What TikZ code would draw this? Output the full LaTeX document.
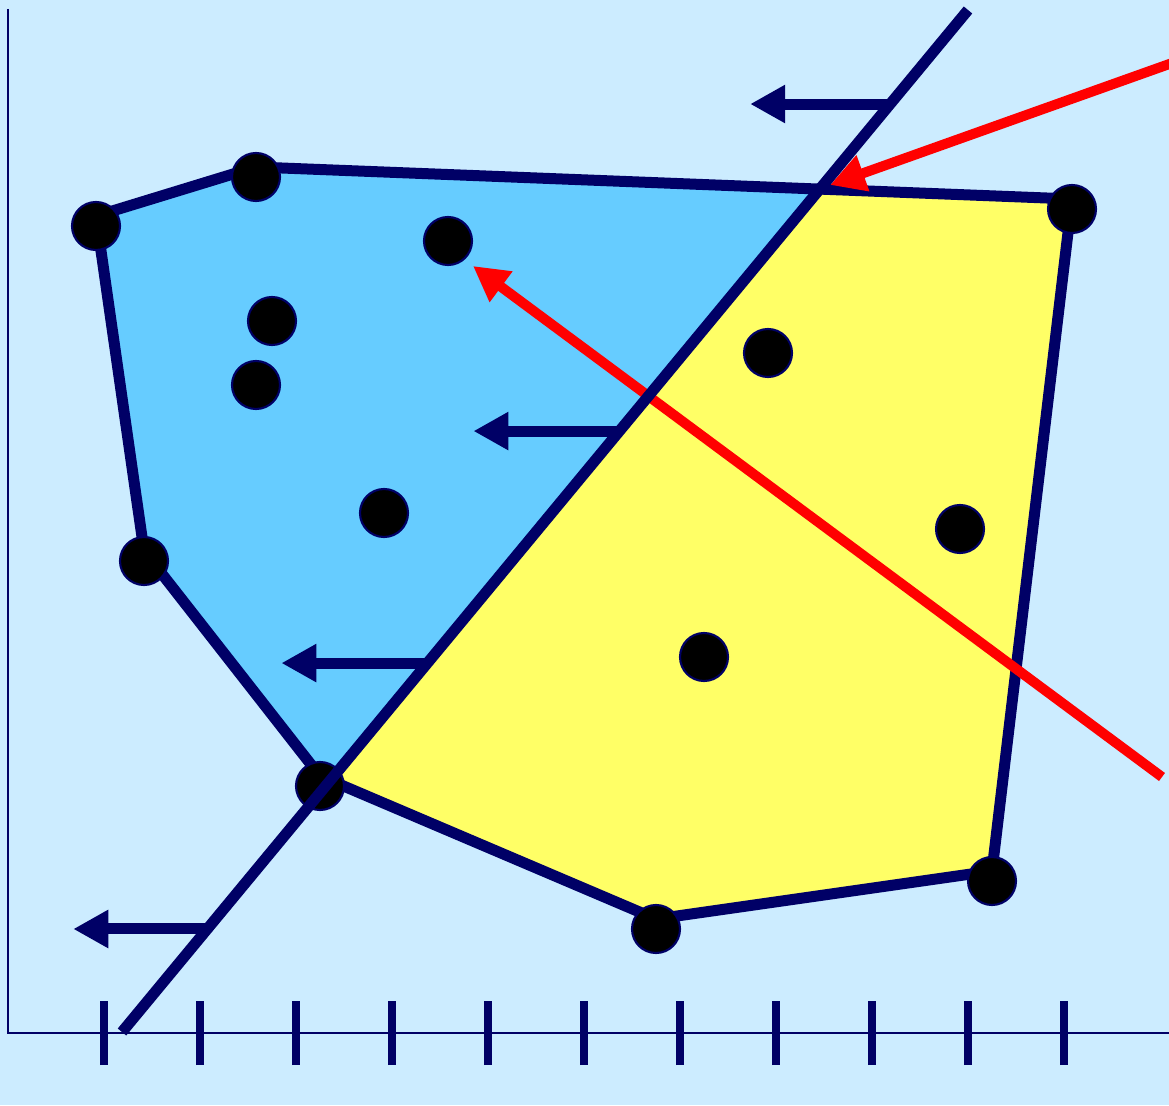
\documentclass[tikz,border=0pt]{standalone}
\usetikzlibrary{arrows.meta,calc}
\definecolor{bgblue}{HTML}{CCECFF}
\definecolor{inblue}{HTML}{66CCFF}
\definecolor{inyellow}{HTML}{FFFF66}
\definecolor{navy}{HTML}{000066}
\begin{document}
\begin{tikzpicture}[
    >={Triangle[length=0.35cm, width=0.36cm]},
    pt/.style={circle, fill=black, draw=navy, line width=0.6pt, minimum size=0.48cm, inner sep=0pt},
    hulledge/.style={draw=navy, line width=0.11cm, line join=round},
    sep/.style={navy, line width=0.11cm},
    nrm/.style={->, navy, line width=0.11cm},
    ray/.style={->, red, line width=0.1cm}
]
\fill[bgblue] (0,0) rectangle (11.69,11.05);
\useasboundingbox (0,0) rectangle (11.69,11.05);

% axes
\coordinate (ytop) at (0.08,10.96);
\coordinate (orig) at (0.08,0.72);
\coordinate (xend) at (11.69,0.72);
\draw[navy, line width=0.025cm] (ytop) -- (orig) -- (xend);
\foreach \i in {0,...,10}
    \draw[navy, line width=0.08cm] ({1.04+0.96*\i},0.40) -- ++(0,0.64);

% hull corners
\coordinate (A) at (0.96,8.89);
\coordinate (B) at (2.56,9.38);
\coordinate (C) at (10.72,9.06);
\coordinate (D) at (9.92,2.34);
\coordinate (E) at (6.56,1.86);
\coordinate (F) at (3.20,3.29);
\coordinate (G) at (1.44,5.54);

% separating line
\coordinate (L1) at (1.22,0.73);
\coordinate (L2) at (9.68,10.95);
\coordinate (X) at (intersection of L1--L2 and B--C);
\coordinate (Y) at (intersection of L1--L2 and F--E);

\fill[inblue] (A) -- (B) -- (X) -- (Y) -- (F) -- (G) -- cycle;
\fill[inyellow] (X) -- (C) -- (D) -- (E) -- (Y) -- cycle;
\draw[hulledge] (A) -- (B) -- (C) -- (D) -- (E) -- (F) -- (G) -- cycle;

% points
\node[pt] (dA) at ($(A)+(0,-0.10)$) {};
\node[pt] (dB) at ($(B)+(0,-0.10)$) {};
\node[pt] (dC) at ($(C)+(0,-0.10)$) {};
\node[pt] (dD) at ($(D)+(0,-0.10)$) {};
\node[pt] (dE) at ($(E)+(0,-0.10)$) {};
\node[pt] (dF) at ($(F)+(0,-0.10)$) {};
\node[pt] (dG) at ($(G)+(0,-0.10)$) {};
\node[pt] (p1) at (4.48,8.64) {};
\node[pt] (p2) at (2.72,7.84) {};
\node[pt] (p3) at (2.56,7.20) {};
\node[pt] (p4) at (3.84,5.92) {};
\node[pt] (p5) at (7.68,7.52) {};
\node[pt] (p6) at (9.60,5.76) {};
\node[pt] (p7) at (7.04,4.48) {};

% red rays
\coordinate (r1s) at (11.75,10.43);
\coordinate (r1t) at (8.30,9.20);
\coordinate (r2s) at (11.62,3.28);
\coordinate (r2t) at (4.73,8.39);
\draw[ray] (r1s) -- (r1t);
\draw[ray] (r2s) -- (r2t);

\draw[sep] (L1) -- (L2);

% normals
\foreach \t/\d [count=\k] in {0.908/1.40, 0.588/1.46, 0.361/1.46, 0.1008/1.34} {
    \coordinate (n\k) at ($(L1)!\t!(L2)$);
    \coordinate (m\k) at ($(n\k)+(-\d,0)$);
    \draw[nrm] (n\k) -- (m\k);
}
\end{tikzpicture}
\end{document}
